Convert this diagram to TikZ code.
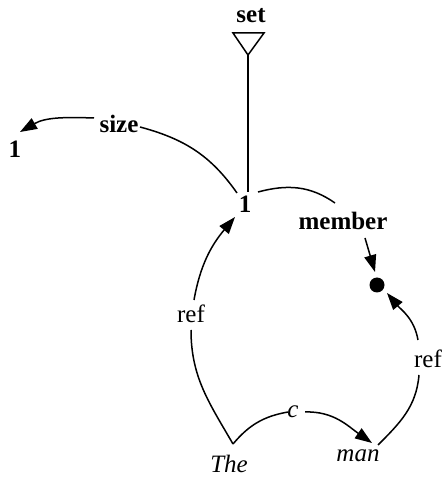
\documentclass[tikz,border=0pt]{standalone}
\usepackage{fontspec}
\setmainfont{Liberation Serif}
\usetikzlibrary{arrows.meta}
\begin{document}
\begin{tikzpicture}[x=1pt,y=1pt,
  lbl/.style={anchor=base,inner sep=1pt,font=\fontsize{25}{30}\selectfont},
  blbl/.style={lbl,font=\fontsize{25}{30}\selectfont\bfseries},
  ilbl/.style={lbl,font=\fontsize{25}{30}\selectfont\itshape},
  edge/.style={line width=1.5pt},
  arr/.style={edge,-{Triangle[length=17pt,width=12pt]}}]
\useasboundingbox (0,0) rectangle (446,480);
% nodes
\node[blbl] (set) at (251,457) {set};
\node[blbl] (onel) at (15,322) {1};
\node[blbl] (size) at (119,347) {size};
\node[blbl] (one) at (245,267) {1};
\node[blbl] (member) at (343,250) {member};
\node[circle,fill=black,inner sep=0pt,minimum size=15pt] (dot) at (377,195) {};
\node[lbl] (refl) at (191,157) {ref};
\node[lbl] (refr) at (428,112) {ref};
\node[ilbl] (c) at (293,63) {c};
\node[ilbl] (the) at (229,8) {The};
\node[ilbl] (man) at (358,18) {man};
% set triangle
\coordinate (settip) at (248,425);
\draw[edge,line join=miter] (settip) -- ++(-15,22) -- ++(31,0) -- cycle;
\draw[edge] (settip) -- ([shift={(3,21)}]one.base);
% size
\draw[edge] ([shift={(-8,20)}]one.base) to[out=125,in=-15] ([shift={(21,6)}]size.base);
\draw[arr] ([shift={(-25,15)}]size.base) to[out=178,in=30] ([shift={(5,26)}]onel.base);
% member
\draw[edge] ([shift={(13,21)}]one.base) to[out=15,in=145] ([shift={(-8,27)}]member.base);
\draw[arr] ([shift={(22,-8)}]member.base) -- ([shift={(-2,13)}]dot.center);
% right ref
\draw[edge] ([shift={(20,17)}]man.base) to[out=45,in=-95] ([shift={(-9,-7)}]refr.base);
\draw[arr] ([shift={(-10,28)}]refr.base) to[out=100,in=-50] ([shift={(10,-8)}]dot.center);
% c
\draw[edge] ([shift={(4,28)}]the.base) to[out=50,in=190] ([shift={(-5,5)}]c.base);
\draw[arr] ([shift={(12,5)}]c.base) to[out=2,in=145] ([shift={(14,19)}]man.base);
% left ref
\draw[edge] ([shift={(4,28)}]the.base) to[out=120,in=-90] ([shift={(0,-7)}]refl.base);
\draw[arr] ([shift={(3,23)}]refl.base) to[out=80,in=230] ([shift={(-10,-4)}]one.base);
\end{tikzpicture}
\end{document}
